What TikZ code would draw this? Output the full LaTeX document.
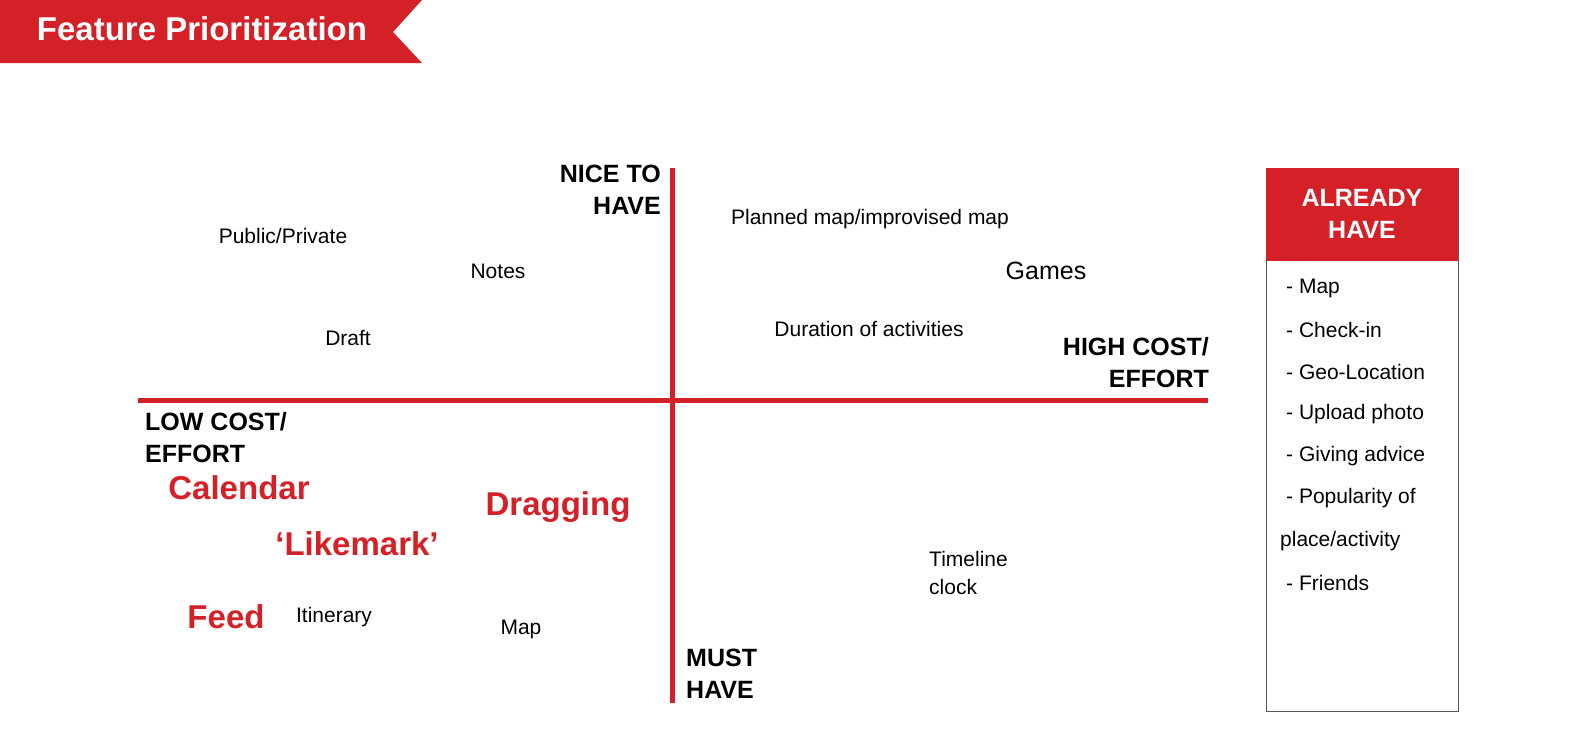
\documentclass[tikz,border=0pt]{standalone}
\usepackage{fontspec}
\setmainfont{Liberation Sans}
\definecolor{cred}{HTML}{D42027}
\begin{document}
\begin{tikzpicture}[x=1pt,y=-1pt,
  lab/.style={font=\fontsize{21}{25}\selectfont,inner sep=0pt},
  big/.style={font=\fontsize{33}{38}\selectfont\bfseries,text=cred,inner sep=0pt},
  axl/.style={font=\fontsize{25}{32}\selectfont\bfseries,inner sep=0pt,align=left},
  axr/.style={font=\fontsize{25}{32}\selectfont\bfseries,inner sep=0pt,align=right},
  item/.style={font=\fontsize{21}{25}\selectfont,inner sep=0pt,anchor=west}]
\useasboundingbox (0,0) rectangle (1574,731);
\fill[cred] (0,0) -- (422,0) -- (393,32) -- (422,63) -- (0,63) -- cycle;
\node[text=white,font=\fontsize{33}{36}\selectfont\bfseries,inner sep=0pt] (title) at (202,29) {Feature Prioritization};
\coordinate (vt) at (672,168); \coordinate (vb) at (672,703);
\coordinate (hl) at (138,400); \coordinate (hr) at (1208,400);
\draw[cred,line width=5pt] (vt) -- (vb);
\draw[cred,line width=5pt] (hl) -- (hr);
\node[axr,anchor=north east] (nice) at (661,165) {NICE TO\\HAVE};
\node[axr,anchor=north east] (high) at (1209,337) {HIGH COST/\\EFFORT};
\node[axl,anchor=north west] (low) at (145,412) {LOW COST/\\EFFORT};
\node[axl,anchor=north west] (must) at (686,649) {MUST\\HAVE};
\node[lab] (pp) at (283,236) {Public/Private};
\node[lab] (notes) at (498,271) {Notes};
\node[lab] (draft) at (348,338) {Draft};
\node[lab] (plan) at (870,219) {Planned map/improvised map};
\node[lab,font=\fontsize{25}{28}\selectfont] (games) at (1046,271) {Games};
\node[lab,align=left,anchor=north west,font=\fontsize{21}{28}\selectfont] (tl) at (929,551) {Timeline\\clock};
\node[lab] (dur) at (869,329) {Duration of activities};
\node[lab] (itin) at (334,617) {Itinerary};
\node[lab] (map) at (521,629) {Map};
\node[big] (cal) at (239,488) {Calendar};
\node[big] (drag) at (558,507) {Dragging};
\node[big] (like) at (357,544) {`Likemark\symbol{39}};
\node[big] (feed) at (226,617) {Feed};
\draw[gray!70!black,line width=1pt] (1266,168) rectangle (1458,711);
\fill[cred] (1266,168) rectangle (1458,261);
\node[axr,align=center,text=white] (ah) at (1362,214) {ALREADY\\HAVE};
\node[item] (i1) at (1286,288) {- Map};
\node[item] (i2) at (1286,330) {- Check-in};
\node[item] (i3) at (1286,372) {- Geo-Location};
\node[item] (i4) at (1286,414) {- Upload photo};
\node[item] (i5) at (1286,456) {- Giving advice};
\node[item] (i6) at (1286,498) {- Popularity of};
\node[item] (i7) at (1280,541) {place/activity};
\node[item] (i8) at (1286,583) {- Friends};
\end{tikzpicture}
\end{document}
